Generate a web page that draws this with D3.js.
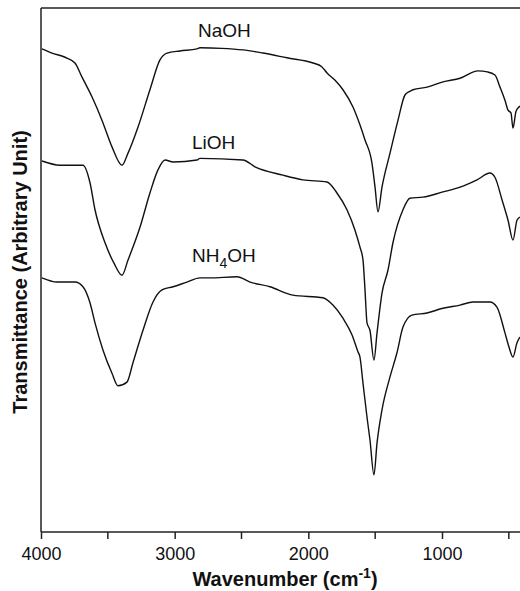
<!DOCTYPE html>
<meta charset="utf-8">
<style>
    body { margin: 0; background: #fff; }
    .axis path, .axis line { fill: none; stroke: #222; stroke-width: 1.5; }
    .axis text { font: 18px Arial, "Liberation Sans", sans-serif; fill: #111; }
    .spec { fill: none; stroke: #111; stroke-width: 1.4; stroke-linejoin: round; }
    .lbl { font: 19px Arial, "Liberation Sans", sans-serif; fill: #111; }
    .title { font: bold 20px Arial, "Liberation Sans", sans-serif; fill: #111; }
</style>
<svg class="chart"></svg>
<script src="https://cdn.jsdelivr.net/npm/d3@7"></script>
<script>

    // spectra: wavenumber (cm-1) and transmittance (arb. units, 0-100)
    const naohWave = [3993, 3918, 3820, 3746, 3693, 3618, 3544, 3469, 3394, 3349, 3274, 3185, 3110, 3057, 2960, 2833, 2811,
        2650, 2489, 2339, 2160, 1965, 1900, 1860, 1800, 1741, 1666, 1614, 1576, 1524, 1501, 1479, 1449, 1389, 1329, 1277,
        1240, 1217, 1112, 993, 865, 731, 660, 604, 566, 529, 506, 484, 469, 447, 424, 417];
    const naohT = [92.2, 91.4, 90.6, 89.5, 86.8, 83.0, 78.6, 73.5, 70.0, 72.3, 77.3, 84.4, 90.1, 91.4, 91.8, 92.2, 92.4,
        92.3, 92.0, 91.4, 90.5, 89.5, 88.8, 87.6, 86.2, 84.4, 81.1, 77.7, 74.8, 70.4, 65.8, 61.1, 65.8, 72.3, 78.6, 83.4,
        84.1, 84.4, 84.9, 85.9, 86.6, 88.0, 87.8, 87.2, 84.9, 82.4, 80.5, 80.0, 77.1, 80.2, 81.1, 81.3];

    const liohWave = [3993, 3858, 3686, 3633, 3596, 3521, 3454, 3394, 3349, 3259, 3185, 3125, 3072, 3012, 2833, 2811,
        2489, 2399, 2190, 2040, 1860, 1786, 1711, 1651, 1614, 1591, 1576, 1561, 1539, 1509, 1486, 1449, 1404, 1367,
        1292, 1240, 1142, 993, 865, 738, 641, 604, 551, 506, 469, 439, 417];
    const liohT = [70.8, 70.0, 70.0, 66.6, 61.5, 55.2, 51.3, 49.0, 51.9, 58.2, 64.7, 69.1, 71.0, 70.6, 71.0, 71.3,
        71.0, 69.7, 68.1, 67.2, 66.8, 64.7, 61.5, 57.6, 54.4, 51.9, 46.2, 39.9, 38.5, 32.8, 38.0, 45.6, 50.0, 55.2,
        61.5, 63.7, 63.9, 64.9, 65.8, 67.2, 68.5, 67.7, 63.4, 59.5, 55.7, 59.5, 60.1];

    const nh4ohWave = [3993, 3880, 3746, 3686, 3633, 3596, 3536, 3469, 3424, 3357, 3312, 3237, 3162, 3095, 3012, 2908,
        2811, 2736, 2534, 2436, 2287, 2115, 1890, 1816, 1741, 1673, 1629, 1614, 1591, 1561, 1539, 1509, 1486, 1449,
        1389, 1337, 1292, 1225, 1112, 993, 865, 768, 641, 589, 529, 499, 469, 439, 417];
    const nh4ohT = [48.5, 47.7, 47.7, 46.8, 43.7, 39.9, 34.7, 30.3, 27.9, 28.6, 32.3, 38.5, 43.9, 46.2, 46.8, 47.7,
        48.5, 48.5, 48.7, 47.7, 46.8, 45.2, 44.7, 43.3, 40.8, 37.6, 34.4, 33.4, 28.4, 21.9, 17.6, 10.9, 17.0, 23.3,
        29.6, 34.2, 39.1, 41.4, 41.8, 42.7, 43.3, 43.9, 43.9, 42.9, 38.0, 35.3, 33.4, 36.1, 37.2];

    const seriesNames = ["NaOH", "LiOH", "NH4OH"];
    // where each label starts: wavenumber, transmittance (baseline)
    const labelWave = [2826, 2870, 2870];
    const labelT = [94.5, 73.1, 51.5];

    const majorTicks = [4000, 3000, 2000, 1000];
    const minorTicks = [3500, 2500, 1500, 500];

    const margin = {top: 8, right: 0, bottom: 59, left: 41},
        width = 520 - margin.left - margin.right,
        height = 591 - margin.top - margin.bottom;

    const x = d3.scaleLinear()
        .domain([4000, 400])
        .range([0, 481.2]);

    const y = d3.scaleLinear()
        .domain([0, 100])
        .range([height, 0]);

    const svg = d3.select(".chart")
        .attr("width", 520)
        .attr("height", 591);

    const chart = svg.append("g")
        .attr("transform", "translate(" + margin.left + "," + margin.top + ")");

    // frame: left and top lines
    chart.append("line")
        .attr("x1", 0).attr("x2", 0)
        .attr("y1", 0).attr("y2", height)
        .attr("stroke", "#222").attr("stroke-width", 1.5);
    chart.append("line")
        .attr("x1", 0).attr("x2", width)
        .attr("y1", 0).attr("y2", 0)
        .attr("stroke", "#222").attr("stroke-width", 1.5);

    const xAxis = d3.axisBottom(x)
        .tickValues(majorTicks)
        .tickSizeInner(7)
        .tickSizeOuter(0)
        .tickPadding(8)
        .tickFormat(d3.format("d"));

    const gx = chart.append("g")
        .attr("class", "x axis")
        .attr("transform", "translate(0," + height + ")")
        .call(xAxis);
    gx.select(".domain").attr("d", "M0,0H" + width);

    gx.selectAll(".minor")
        .data(minorTicks)
        .join("line")
        .attr("class", "minor")
        .attr("x1", d => x(d)).attr("x2", d => x(d))
        .attr("y1", 0).attr("y2", 7);

    const line = d3.line()
        .curve(d3.curveMonotoneX)
        .x(d => x(d[0]))
        .y(d => y(d[1]));

    const spectra = [
        d3.zip(naohWave, naohT),
        d3.zip(liohWave, liohT),
        d3.zip(nh4ohWave, nh4ohT)
    ];

    chart.selectAll("path.spec")
        .data(spectra)
        .join("path")
        .attr("class", "spec")
        .attr("d", line);

    // series labels
    seriesNames.forEach((name, i) => {
        const t = chart.append("text")
            .attr("class", "lbl")
            .attr("x", x(labelWave[i]))
            .attr("y", y(labelT[i]));
        if (name === "NH4OH") {
            t.append("tspan").text("NH");
            t.append("tspan").attr("dy", 6).attr("font-size", 14).text("4");
            t.append("tspan").attr("dy", -6).text("OH");
        } else {
            t.text(name);
        }
    });

    // axis titles
    const xt = svg.append("text")
        .attr("class", "title")
        .attr("x", 285)
        .attr("y", 586)
        .attr("text-anchor", "middle");
    xt.append("tspan").text("Wavenumber (cm");
    xt.append("tspan").attr("dy", -8).attr("font-size", 14).text("-1");
    xt.append("tspan").attr("dy", 8).text(")");

    svg.append("text")
        .attr("class", "title")
        .attr("transform", "translate(27,272) rotate(-90)")
        .attr("text-anchor", "middle")
        .text("Transmittance (Arbitrary Unit)");

</script>
